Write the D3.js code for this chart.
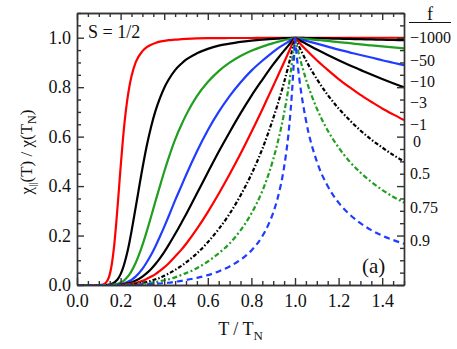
<!DOCTYPE html>
<html>
<head>
<meta charset="utf-8">
<script src="https://cdn.jsdelivr.net/npm/d3@7"></script>
<style>
  body { margin: 0; background: #fff; }
</style>
</head>
<body>
<div id="chart"></div>
<script>
// reduced temperature grid T / T_N
const tGrid = [0, 0.1, 0.12, 0.14, 0.15, 0.16, 0.17, 0.18, 0.19, 0.2,
  0.21, 0.22, 0.23, 0.24, 0.25, 0.27, 0.3, 0.32, 0.34, 0.36,
  0.38, 0.4, 0.42, 0.45, 0.48, 0.5, 0.55, 0.6, 0.65, 0.7,
  0.75, 0.8, 0.85, 0.88, 0.9, 0.92, 0.95, 0.97, 0.98, 0.99,
  1.0, 1.01, 1.02, 1.05, 1.1, 1.15, 1.2, 1.25, 1.3, 1.35, 1.4, 1.45, 1.5];

// chi_par(T) / chi(T_N), one array per f
const chiFm1000 = [0, 0, 0.002, 0.018, 0.042, 0.086, 0.155, 0.250, 0.361, 0.476,
  0.582, 0.673, 0.745, 0.801, 0.844, 0.902, 0.946, 0.962, 0.972, 0.979,
  0.984, 0.987, 0.990, 0.992, 0.994, 0.995, 0.997, 0.998, 0.998, 0.999,
  0.999, 0.999, 1, 1, 1, 1, 1, 1, 1, 1,
  1, 1, 1, 1, 1, 1, 1, 1, 1, 1, 1, 1, 1];
const chiFm50 = [0, 0, 0, 0.001, 0.002, 0.005, 0.009, 0.017, 0.028, 0.044,
  0.066, 0.095, 0.129, 0.170, 0.217, 0.318, 0.471, 0.563, 0.640, 0.704,
  0.755, 0.797, 0.830, 0.869, 0.896, 0.911, 0.937, 0.955, 0.968, 0.976,
  0.983, 0.988, 0.992, 0.994, 0.995, 0.996, 0.998, 0.999, 0.999, 1.0,
  1, 1.0, 1.0, 0.999, 0.998, 0.997, 0.996, 0.995, 0.994, 0.993, 0.992, 0.991, 0.990];
const chiFm10 = [0, 0, 0, 0, 0, 0.001, 0.002, 0.004, 0.006, 0.010,
  0.015, 0.022, 0.031, 0.042, 0.056, 0.091, 0.161, 0.217, 0.277, 0.339,
  0.399, 0.458, 0.513, 0.588, 0.650, 0.687, 0.764, 0.821, 0.865, 0.899,
  0.926, 0.947, 0.964, 0.973, 0.978, 0.983, 0.990, 0.994, 0.996, 0.998,
  1, 0.999, 0.998, 0.995, 0.991, 0.987, 0.982, 0.978, 0.973, 0.969, 0.965, 0.961, 0.957];
const chiFm3 = [0, 0, 0, 0, 0, 0, 0, 0.001, 0.002, 0.004,
  0.006, 0.008, 0.012, 0.016, 0.021, 0.035, 0.065, 0.092, 0.122, 0.157,
  0.195, 0.235, 0.277, 0.342, 0.403, 0.444, 0.540, 0.626, 0.700, 0.764,
  0.819, 0.867, 0.907, 0.929, 0.943, 0.956, 0.973, 0.984, 0.990, 0.995,
  1, 0.998, 0.995, 0.988, 0.976, 0.964, 0.952, 0.941, 0.930, 0.920, 0.909, 0.899, 0.889];
const chiFm1 = [0, 0, 0, 0, 0, 0, 0, 0, 0, 0.002,
  0.003, 0.004, 0.006, 0.008, 0.011, 0.018, 0.034, 0.048, 0.065, 0.085,
  0.108, 0.133, 0.161, 0.206, 0.253, 0.285, 0.370, 0.455, 0.539, 0.618,
  0.694, 0.765, 0.830, 0.868, 0.892, 0.915, 0.948, 0.969, 0.980, 0.990,
  1, 0.995, 0.990, 0.976, 0.952, 0.930, 0.909, 0.889, 0.870, 0.851, 0.833, 0.816, 0.800];
const chiF0 = [0, 0, 0, 0, 0, 0, 0, 0, 0, 0.001,
  0.001, 0.002, 0.003, 0.004, 0.005, 0.009, 0.017, 0.025, 0.034, 0.044,
  0.057, 0.071, 0.087, 0.115, 0.144, 0.166, 0.227, 0.295, 0.369, 0.448,
  0.531, 0.619, 0.710, 0.767, 0.805, 0.843, 0.901, 0.940, 0.960, 0.980,
  1, 0.990, 0.980, 0.952, 0.909, 0.870, 0.833, 0.800, 0.769, 0.741, 0.714, 0.690, 0.667];
const chiF05 = [0, 0, 0, 0, 0, 0, 0, 0, 0, 0,
  0.001, 0.001, 0.001, 0.002, 0.003, 0.005, 0.009, 0.012, 0.017, 0.023,
  0.029, 0.037, 0.046, 0.061, 0.078, 0.091, 0.128, 0.173, 0.226, 0.288,
  0.362, 0.448, 0.550, 0.622, 0.674, 0.729, 0.820, 0.887, 0.924, 0.961,
  1, 0.980, 0.962, 0.909, 0.833, 0.769, 0.714, 0.667, 0.625, 0.588, 0.556, 0.526, 0.500];
const chiF075 = [0, 0, 0, 0, 0, 0, 0, 0, 0, 0,
  0, 0, 0.001, 0.001, 0.001, 0.002, 0.004, 0.006, 0.009, 0.012,
  0.015, 0.019, 0.023, 0.031, 0.041, 0.048, 0.068, 0.095, 0.128, 0.168,
  0.221, 0.289, 0.380, 0.451, 0.508, 0.574, 0.695, 0.797, 0.858, 0.925,
  1, 0.962, 0.926, 0.833, 0.714, 0.625, 0.556, 0.500, 0.455, 0.417, 0.385, 0.357, 0.333];
const chiF09 = [0, 0, 0, 0, 0, 0, 0, 0, 0, 0,
  0, 0, 0, 0, 0.001, 0.001, 0.002, 0.003, 0.004, 0.005,
  0.006, 0.008, 0.009, 0.013, 0.017, 0.020, 0.029, 0.040, 0.055, 0.075,
  0.102, 0.140, 0.197, 0.248, 0.292, 0.350, 0.477, 0.611, 0.707, 0.831,
  1, 0.909, 0.833, 0.667, 0.500, 0.400, 0.333, 0.286, 0.250, 0.222, 0.200, 0.182, 0.167];

const fLabels = ["\u22121000", "\u221250", "\u221210", "\u22123", "\u22121", "0", "0.5", "0.75", "0.9"];
const fLabelPos = [1.0, 0.907, 0.822, 0.737, 0.648, 0.579, 0.453, 0.312, 0.182];
const xTicks = [0, 0.2, 0.4, 0.6, 0.8, 1.0, 1.2, 1.4];
const yTicks = [0, 0.2, 0.4, 0.6, 0.8, 1.0];

const serif = "'Liberation Serif', Tinos, 'Times New Roman', 'DejaVu Serif', serif";

const width = 457, height = 349;
const margin = { top: 13, right: 53, bottom: 64, left: 77 };
const innerW = width - margin.left - margin.right;
const innerH = height - margin.top - margin.bottom;

const series = [
  { values: chiFm1000, color: "#ff0000", dash: null },
  { values: chiFm50, color: "#000000", dash: null },
  { values: chiFm10, color: "#1f9e1f", dash: null },
  { values: chiFm3, color: "#1f3cff", dash: null },
  { values: chiFm1, color: "#000000", dash: null },
  { values: chiF0, color: "#ff0000", dash: null },
  { values: chiF05, color: "#000000", dash: "4,2,1.5,2" },
  { values: chiF075, color: "#1f9e1f", dash: "5,2.5,2,2.5" },
  { values: chiF09, color: "#1f3cff", dash: "6,4" }
];

const svg = d3.select("#chart").append("svg")
  .attr("width", width)
  .attr("height", height)
  .attr("font-family", serif);

const g = svg.append("g")
  .attr("transform", `translate(${margin.left},${margin.top})`);

const x = d3.scaleLinear().domain([0, 1.5]).range([0, innerW]);
const y = d3.scaleLinear().domain([0, 1.1]).range([innerH, 0]);

const minorX = d3.range(0, 1.5001, 0.05).filter(v => Math.abs(v * 5 - Math.round(v * 5)) > 1e-6);
const minorY = d3.range(0, 1.1001, 0.05).filter(v => Math.abs(v * 5 - Math.round(v * 5)) > 1e-6);

// curves, split at T_N so the cusp stays sharp
const line = d3.line()
  .x(d => x(d[0]))
  .y(d => y(d[1]))
  .curve(d3.curveMonotoneX);

const curves = g.append("g");
series.forEach(s => {
  const pts = tGrid.map((t, i) => [t, s.values[i]]);
  [pts.filter(p => p[0] <= 1), pts.filter(p => p[0] >= 1)].forEach(part => {
    curves.append("path")
      .attr("d", line(part))
      .attr("fill", "none")
      .attr("stroke", s.color)
      .attr("stroke-width", 2.2)
      .attr("stroke-dasharray", s.dash);
  });
});

// axes
function styleAxis(sel) {
  sel.attr("font-family", serif);
  sel.selectAll("path, line").attr("stroke", "#333").attr("stroke-width", 1.4);
  sel.selectAll("text").attr("fill", "#111");
}

g.append("g")
  .attr("transform", `translate(0,${innerH})`)
  .call(d3.axisBottom(x).tickValues(xTicks).tickSize(-7).tickSizeOuter(0).tickPadding(9).tickFormat(d3.format(".1f")))
  .call(styleAxis)
  .attr("font-size", 18);
g.append("g")
  .attr("transform", `translate(0,${innerH})`)
  .call(d3.axisBottom(x).tickValues(minorX).tickSize(-4).tickSizeOuter(0).tickFormat(""))
  .call(styleAxis);

g.append("g")
  .call(d3.axisTop(x).tickValues(xTicks).tickSize(-7).tickSizeOuter(0).tickFormat(""))
  .call(styleAxis);
g.append("g")
  .call(d3.axisTop(x).tickValues(minorX).tickSize(-4).tickSizeOuter(0).tickFormat(""))
  .call(styleAxis);

g.append("g")
  .call(d3.axisLeft(y).tickValues(yTicks).tickSize(-7).tickSizeOuter(0).tickPadding(6).tickFormat(d3.format(".1f")))
  .call(styleAxis)
  .attr("font-size", 18);
g.append("g")
  .call(d3.axisLeft(y).tickValues(minorY).tickSize(-4).tickSizeOuter(0).tickFormat(""))
  .call(styleAxis);

g.append("g")
  .attr("transform", `translate(${innerW},0)`)
  .call(d3.axisRight(y).tickValues(yTicks).tickSize(-7).tickSizeOuter(0).tickFormat(""))
  .call(styleAxis);
g.append("g")
  .attr("transform", `translate(${innerW},0)`)
  .call(d3.axisRight(y).tickValues(minorY).tickSize(-4).tickSizeOuter(0).tickFormat(""))
  .call(styleAxis);

// f labels on the right
const fg = g.append("g")
  .attr("transform", `translate(${innerW + 6},0)`)
  .attr("font-size", 16)
  .attr("fill", "#111");

fg.append("text")
  .attr("x", 20)
  .attr("y", 7)
  .attr("text-anchor", "middle")
  .attr("font-size", 18)
  .text("f");
fg.append("line")
  .attr("x1", -1).attr("x2", 41)
  .attr("y1", 9.5).attr("y2", 9.5)
  .attr("stroke", "#111")
  .attr("stroke-width", 1.1);

fg.selectAll("text.flab")
  .data(fLabels)
  .enter()
  .append("text")
  .attr("class", "flab")
  .attr("x", d => d === "0" ? 3 : 0)
  .attr("y", (d, i) => y(fLabelPos[i]))
  .attr("dy", "0.35em")
  .text(d => d);

// annotations
g.append("text")
  .attr("x", 11)
  .attr("y", 25)
  .attr("font-size", 18)
  .attr("fill", "#111")
  .text("S = 1/2");

g.append("text")
  .attr("x", 285)
  .attr("y", 260)
  .attr("font-size", 21)
  .attr("fill", "#111")
  .text("(a)");

// axis titles
const xt = svg.append("text")
  .attr("x", margin.left + innerW / 2)
  .attr("y", 335)
  .attr("text-anchor", "middle")
  .attr("font-size", 18)
  .attr("fill", "#111");
xt.append("tspan").text("T / T");
xt.append("tspan").attr("dy", 5).attr("font-size", 13).text("N");

const yt = svg.append("text")
  .attr("transform", `translate(32,${margin.top + innerH / 2 + 3}) rotate(-90)`)
  .attr("text-anchor", "middle")
  .attr("font-size", 17)
  .attr("fill", "#111");
yt.append("tspan").text("\u03c7");
yt.append("tspan").attr("dy", 4).attr("font-size", 11).text("||");
yt.append("tspan").attr("dy", -4).text("(T) / \u03c7(T");
yt.append("tspan").attr("dy", 4).attr("font-size", 12).text("N");
yt.append("tspan").attr("dy", -4).text(")");
</script>
</body>
</html>
